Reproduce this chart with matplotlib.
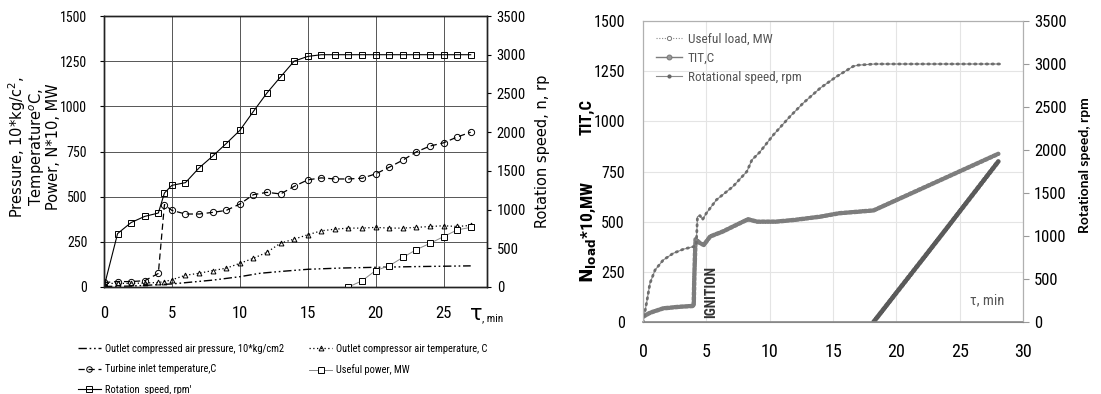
import matplotlib
matplotlib.use("Agg")
import matplotlib.pyplot as plt
from matplotlib.lines import Line2D
from matplotlib import font_manager as fm

# ---------------- data: left panel ----------------
t_left = [0, 1, 2, 3, 4, 4.45, 5, 6, 7, 8, 9, 10, 11, 12, 13, 14, 15, 16, 17,
          18, 19, 20, 21, 22, 23, 24, 25, 26, 27]
tit_left = [25, 30, 30, 35, 75, 456, 424, 404, 404, 413, 424, 459, 511, 524, 515,
            557, 593, 604, 598, 598, 602, 626, 663, 702, 748, 780, 798, 830, 857]
comp_temp_left = [20, 20, 20, 22, 25, 30, 40, 65, 76, 91, 104, 131, 159, 192, 243,
                  265, 289, 311, 320, 326, 326, 330, 326, 326, 330, 335, 339, 335, 341]
rpm_left = [0, 690, 833, 912, 955, 1214, 1313, 1348, 1538, 1690, 1853, 2022, 2268,
            2506, 2714, 2917, 2978, 3000, 3000, 3000, 3000, 3000, 3000, 3000, 3000,
            3000, 3000, 3000, 3000]
t_press = [0, 2, 5, 8, 10, 11.5, 13, 15, 17.5, 20, 23, 27]
pressure_left = [3, 5, 17, 38, 57, 76, 86, 98, 105, 109, 113, 117]
t_power = [18, 19, 20, 21, 22, 23, 24, 25, 26, 27]
power_left = [0, 80, 213, 274, 381, 483, 563, 650, 737, 770]

left_yticks = [0, 250, 500, 750, 1000, 1250, 1500]
left_rticks = [0, 500, 1000, 1500, 2000, 2500, 3000, 3500]
left_xticks = [0, 5, 10, 15, 20, 25]

# ---------------- data: right panel ----------------
t_rot_r = [0, 0.3, 0.55, 0.95, 1.6, 2.4, 3.2, 4.0, 4.2, 4.3, 4.5, 4.7, 5.0, 5.8,
           7.1, 8.2, 8.6, 9.2, 10.3, 11.6, 12.65, 14.0, 15.3, 16.6, 17.0, 18.3, 28.2]
rpm_r = [0, 236, 450, 604, 721, 800, 847, 877, 887, 1225, 1237, 1190, 1265, 1421,
         1575, 1750, 1885, 1972, 2177, 2389, 2546, 2721, 2856, 2973, 2987, 3000, 3000]
t_tit_r = [0, 0.55, 1.6, 2.9, 4.0, 4.03, 4.06, 4.1, 4.15, 4.5, 4.8, 5.3, 6.3, 7.9,
           8.3, 9.0, 10.5, 12.0, 14.0, 15.5, 18.2, 28.05]
tit_r = [26, 46, 68, 76, 80, 160, 243, 326, 412, 393, 384, 426, 451, 500, 512, 500,
         500, 509, 525, 542, 556, 838]
t_load_r = [18.2, 23.4, 28.05]
load_r = [0, 420, 800]

right_yticks = [0, 250, 500, 750, 1000, 1250, 1500]
right_rticks = [0, 500, 1000, 1500, 2000, 2500, 3000, 3500]
right_xticks = [0, 5, 10, 15, 20, 25, 30]

# pick a condensed face if one is installed
names = {f.name for f in fm.fontManager.ttflist}
cond = None
for cand in ['Liberation Sans Narrow', 'Roboto Condensed', 'Open Sans Condensed',
             'DejaVu Sans Condensed', 'Noto Sans Condensed']:
    if cand in names:
        cond = cand
        break
NARROW = [cond, 'DejaVu Sans'] if cond else ['DejaVu Sans']
STRETCH = 'condensed'

W, H = 1101, 394
fig = plt.figure(figsize=(W / 100, H / 100), dpi=100)

def fx(px):
    return px / W

def fy(py):
    return 1 - py / H

# =============== LEFT PANEL ===============
axL = fig.add_axes([fx(104), fy(287), fx(487) - fx(104), fy(16) - fy(287)])
axL2 = axL.twinx()
axL.set_xlim(0, 28.2)
axL.set_ylim(0, 1500)
axL2.set_ylim(0, 3500)
axL.set_xticks(left_xticks)
axL.set_yticks(left_yticks)
axL2.set_yticks(left_rticks)
axL.grid(True, color='#555555', lw=0.7)
for sp in list(axL.spines.values()) + list(axL2.spines.values()):
    sp.set_color('#222222')
    sp.set_linewidth(1.0)

axL.plot(t_press, pressure_left, color='black', lw=1.0,
         linestyle=(0, (6, 2, 1.2, 2, 1.2, 2)))
axL.plot(t_left, comp_temp_left, color='black', lw=0.9, linestyle=(0, (1, 2)),
         marker='^', ms=3.5, mfc='none', mew=0.7)
axL.plot(t_left, tit_left, color='black', lw=0.9, linestyle=(0, (5, 3)),
         marker='o', ms=4.5, mfc='none', mew=0.7)
axL2.plot(t_power, power_left, color='#888888', lw=0.7,
          marker='s', ms=4, mfc='white', mec='black', mew=0.7)
axL2.plot(t_left, rpm_left, color='black', lw=0.8,
          marker='s', ms=4, mfc='none', mec='black', mew=0.7)

axL.tick_params(axis='x', length=0, pad=14, labelsize=12)
axL.tick_params(axis='y', length=3, pad=9, labelsize=10)
axL2.tick_params(axis='y', length=3, pad=4, labelsize=10.5)
for lab in axL.get_xticklabels() + axL.get_yticklabels() + axL2.get_yticklabels():
    lab.set_family(NARROW)
    lab.set_fontstretch(STRETCH)

fig.text(fx(476), fy(314), "τ", fontsize=15, ha='center', va='center',
         family=['DejaVu Sans'])
fig.text(fx(482), fy(318), ", min", fontsize=8, ha='left', va='center',
         family=NARROW, fontstretch=STRETCH)

fig.text(fx(34), fy(147), "Pressure, 10*kg/c$^2$,\nTemperature$^o$C,\nPower, N*10, MW",
         rotation=90, ha='center', va='center', multialignment='center',
         fontsize=10.5, linespacing=0.95, family=['DejaVu Sans'])
fig.text(fx(542), fy(151), "Rotation speed, n, rp", rotation=90, ha='center',
         va='center', fontsize=10.5, family=['DejaVu Sans'])

handles = [
    Line2D([], [], color='black', lw=1.0, linestyle=(0, (6, 2, 1.2, 2, 1.2, 2))),
    Line2D([], [], color='black', lw=0.9, linestyle=(0, (5, 3)), marker='o',
           ms=4, mfc='none', mew=0.7),
    Line2D([], [], color='black', lw=0.8, marker='s', ms=4, mfc='none', mew=0.7),
    Line2D([], [], color='black', lw=0.9, linestyle=(0, (1, 2)), marker='^',
           ms=3.5, mfc='none', mew=0.7),
    Line2D([], [], color='#888888', lw=0.7, marker='s', ms=4, mfc='white',
           mec='black', mew=0.7),
]
labels = ["Outlet compressed air pressure, 10*kg/cm2",
          "Turbine inlet temperature,C",
          "Rotation  speed, rpm'",
          "Outlet compressor air temperature, C",
          "Useful power, MW"]
leg = fig.legend(handles, labels, loc='upper left', ncol=2, frameon=False,
                 bbox_to_anchor=(fx(78), fy(344)),
                 prop={'family': NARROW, 'size': 7.5, 'stretch': STRETCH},
                 handlelength=2.2, handletextpad=0.4, columnspacing=2.4,
                 labelspacing=1.0, borderaxespad=0, borderpad=0)

# =============== RIGHT PANEL ===============
axR = fig.add_axes([fx(643), fy(322), fx(1023) - fx(643), fy(21) - fy(322)])
axR2 = axR.twinx()
axR.set_xlim(0, 30)
axR.set_ylim(0, 1500)
axR2.set_ylim(0, 3500)
axR.set_xticks(right_xticks)
axR.set_yticks(right_yticks)
axR2.set_yticks(right_rticks)
axR.grid(True, color='#e4e4e4', lw=0.8)
for sp in ['left', 'top', 'right']:
    axR.spines[sp].set_color('#b0b0b0')
    axR2.spines[sp].set_color('#b0b0b0')
axR.spines['bottom'].set_color('#888888')
axR2.spines['bottom'].set_color('#888888')
axR.spines['bottom'].set_linewidth(1.2)

# rotational speed: thin line with small beads
axR2.plot(t_rot_r, rpm_r, color='#8a8a8a', lw=0.8)
axR2.plot(t_rot_r, rpm_r, color='#6e6e6e', lw=2.0, linestyle=(0, (0.5, 1.6)),
          dash_capstyle='round')
# TIT: bold beads
axR.plot(t_tit_r, tit_r, color='#9a9a9a', lw=1.0)
axR.plot(t_tit_r, tit_r, color='#7d7d7d', lw=3.2, linestyle=(0, (0.6, 0.5)),
         dash_capstyle='round')
# useful load: bold beads, darker
axR.plot(t_load_r, load_r, color='#6a6a6a', lw=1.0)
axR.plot(t_load_r, load_r, color='#5a5a5a', lw=3.4, linestyle=(0, (0.6, 0.45)),
         dash_capstyle='round')

axR.tick_params(axis='x', length=0, pad=15, labelsize=13)
axR.tick_params(axis='y', length=0, pad=13, labelsize=11.5)
axR2.tick_params(axis='y', length=4, pad=4, labelsize=12, color='#999999')
for lab in axR.get_xticklabels() + axR.get_yticklabels() + axR2.get_yticklabels():
    lab.set_family(NARROW)
    lab.set_fontstretch(STRETCH)

axR.text(5.37, 22, "IGNITION", rotation=90, ha='center', va='bottom',
         fontsize=10, fontweight='bold', color='#333333', family=NARROW)
fig.text(fx(987), fy(300), "τ, min", ha='center', va='center', fontsize=10.5,
         color='#555555', family=NARROW, fontstretch=STRETCH)

fig.text(fx(588), fy(232), r"$\mathbf{N_{load}}$*10,MW", rotation=90, ha='center',
         va='center', fontsize=12.5, fontweight='bold', family=NARROW)
fig.text(fx(587), fy(117), "TIT,C", rotation=90, ha='center', va='center',
         fontsize=12, fontweight='bold', family=NARROW)
fig.text(fx(1085), fy(165), "Rotational speed, rpm", rotation=90, ha='center',
         va='center', fontsize=10, fontweight='bold', family=['Lato', 'DejaVu Sans'])

rh = [
    Line2D([], [], color='#8a8a8a', lw=0.8, linestyle=(0, (1, 1.5)), marker='o',
           ms=3, mfc='white', mec='#777777', mew=0.7),
    Line2D([], [], color='#7d7d7d', lw=1.0, marker='o', ms=3.5, mfc='#999999',
           mec='#777777', mew=0.7),
    Line2D([], [], color='#8a8a8a', lw=0.8, marker='o', ms=2, mfc='#666666',
           mec='#666666'),
]
rl = ["Useful load, MW", "TIT,C", "Rotational speed, rpm"]
legR = fig.legend(rh, rl, loc='upper left', frameon=False,
                  bbox_to_anchor=(fx(656), fy(33)),
                  prop={'family': NARROW, 'size': 9.5, 'stretch': STRETCH},
                  handlelength=2.0, handletextpad=0.4, labelspacing=0.45,
                  borderaxespad=0, borderpad=0)
for t in legR.get_texts():
    t.set_color('#555555')

fig.savefig("out.png", dpi=100)
